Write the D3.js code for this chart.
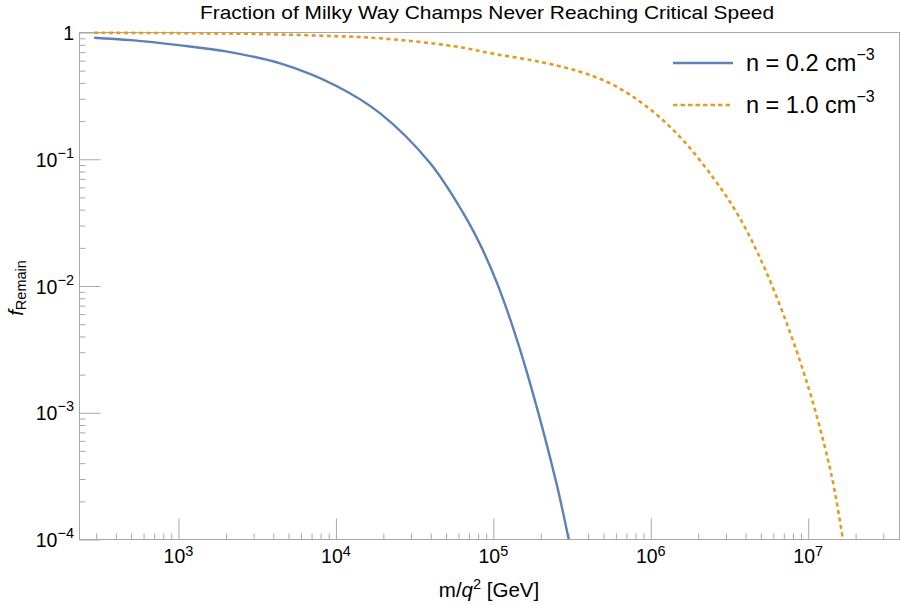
<!DOCTYPE html>
<html>
<head>
<meta charset="utf-8">
<script src="https://cdn.jsdelivr.net/npm/d3@7"></script>
<style>
  body { margin: 0; background: #fff; }
  text { font-family: "Liberation Sans", Arial, sans-serif; fill: #000; }
</style>
</head>
<body>
<svg id="chart" width="900" height="605"></svg>
<script>
// values
var blueM = [291, 500, 1000, 2000, 4430, 10000, 19100, 39700, 64400, 82600, 106000, 135800, 174200, 251000, 301000];
var blueF = [0.91, 0.87, 0.795, 0.71, 0.57, 0.38, 0.23, 0.093, 0.0376, 0.0211, 0.0104, 0.00437, 0.00158, 0.000281, 0.0001];
var orangeM = [291, 1000, 3000, 10000, 19100, 56000, 100000, 200000, 356000, 581000, 946000, 1540000, 2510000, 3610000, 5210000, 7500000, 10070000, 12530000, 14500000, 16600000];
var orangeF = [0.995, 0.988, 0.975, 0.935, 0.90, 0.78, 0.68, 0.585, 0.49, 0.384, 0.259, 0.149, 0.0706, 0.0357, 0.0144, 0.00463, 0.00156, 0.000585, 0.000267, 0.0001];
var seriesNames = ["n = 0.2 cm", "n = 1.0 cm"];
var xMajor = [1e3, 1e4, 1e5, 1e6, 1e7];
var xExp = ["3", "4", "5", "6", "7"];
var yMajor = [1, 1e-1, 1e-2, 1e-3, 1e-4];
var yExp = ["", "\u22121", "\u22122", "\u22123", "\u22124"];

var L = 79.5, R = 899.5, T = 32.5, B = 539.5;
var BLUE = "#5e81b5", ORANGE = "#e19c24", FRAME = "#a8a8a8";

var x = d3.scaleLog().domain([235, 3.8e7]).range([L, R]);
var y = d3.scaleLog().domain([1e-4, 1]).range([B, T]);

var svg = d3.select("#chart");

// minor ticks
var xMinor = [];
for (var e = 2; e <= 7; e++) for (var k = 2; k <= 9; k++) {
  var v = k * Math.pow(10, e);
  if (v >= 235 && v <= 3.8e7) xMinor.push(v);
}
var yMinor = [];
for (var e = -4; e < 0; e++) for (var k = 2; k <= 9; k++) yMinor.push(k * Math.pow(10, e));

var xMinorAxis = d3.axisBottom(x).tickValues(xMinor).tickSize(-6).tickFormat("");
var xMajorAxis = d3.axisBottom(x).tickValues(xMajor).tickSize(-21).tickFormat("");
var yMinorAxis = d3.axisLeft(y).tickValues(yMinor).tickSize(-6).tickFormat("");
var yMajorAxis = d3.axisLeft(y).tickValues(yMajor).tickSize(-21).tickFormat("");

[xMinorAxis, xMajorAxis].forEach(function(a) {
  svg.append("g").attr("transform", "translate(0," + B + ")").call(a);
});
[yMinorAxis, yMajorAxis].forEach(function(a) {
  svg.append("g").attr("transform", "translate(" + L + ",0)").call(a);
});
svg.selectAll(".domain").remove();
svg.selectAll(".tick line").attr("stroke", FRAME).attr("stroke-width", 1);

// frame
svg.append("rect")
  .attr("x", L).attr("y", T).attr("width", R - L).attr("height", B - T)
  .attr("fill", "none").attr("stroke", FRAME).attr("stroke-width", 1);

// tick labels
var xl = svg.append("g").selectAll("text").data(xMajor).enter().append("text")
  .attr("x", function(d) { return x(d); })
  .attr("y", 563)
  .attr("text-anchor", "middle")
  .style("font-size", "19.5px");
xl.append("tspan").text("10");
xl.append("tspan").attr("dy", -7).style("font-size", "14.5px").text(function(d, i) { return xExp[i]; });

var yl = svg.append("g").selectAll("text").data(yMajor).enter().append("text")
  .attr("x", 74)
  .attr("y", function(d) { return y(d) + 7.5; })
  .attr("text-anchor", "end")
  .style("font-size", "19.5px");
yl.append("tspan").text(function(d, i) { return i == 0 ? "1" : "10"; });
yl.append("tspan").attr("dy", -9).style("font-size", "14.5px").text(function(d, i) { return yExp[i]; });

// clip
svg.append("clipPath").attr("id", "plotclip").append("rect")
  .attr("x", L).attr("y", T - 2).attr("width", R - L).attr("height", B - T + 2);

var line = d3.line()
  .x(function(d) { return x(d[0]); })
  .y(function(d) { return y(d[1]); })
  .curve(d3.curveCatmullRom.alpha(0.5));

var g = svg.append("g").attr("clip-path", "url(#plotclip)");

g.append("path")
  .attr("d", line(orangeM.map(function(m, i) { return [m, orangeF[i]]; })))
  .attr("fill", "none").attr("stroke", ORANGE).attr("stroke-width", 2.6)
  .attr("stroke-dasharray", "4,3.5");

g.append("path")
  .attr("d", line(blueM.map(function(m, i) { return [m, blueF[i]]; })))
  .attr("fill", "none").attr("stroke", BLUE).attr("stroke-width", 2.4);

// title
svg.append("text")
  .attr("x", 487).attr("y", 19)
  .attr("text-anchor", "middle")
  .attr("textLength", 574).attr("lengthAdjust", "spacingAndGlyphs")
  .style("font-size", "19px")
  .text("Fraction of Milky Way Champs Never Reaching Critical Speed");

// x label
var xt = svg.append("text")
  .attr("x", 489).attr("y", 597)
  .attr("text-anchor", "middle")
  .style("font-size", "20.5px");
xt.append("tspan").text("m/");
xt.append("tspan").style("font-style", "italic").text("q");
xt.append("tspan").attr("dy", -8).style("font-size", "14.5px").text("2");
xt.append("tspan").attr("dy", 8).text(" [GeV]");

// y label
var yt = svg.append("text")
  .attr("transform", "translate(23,288) rotate(-90)")
  .attr("text-anchor", "middle")
  .style("font-size", "20.5px");
yt.append("tspan").style("font-style", "italic").text("f");
yt.append("tspan").attr("dy", 3).style("font-size", "14.5px").text("Remain");

// legend
var legend = svg.append("g");
var legY = [63, 105];
var legColor = [BLUE, ORANGE];
var legDash = [null, "4.5,3"];
seriesNames.forEach(function(name, i) {
  legend.append("line")
    .attr("x1", 673).attr("x2", 733).attr("y1", legY[i]).attr("y2", legY[i])
    .attr("stroke", legColor[i]).attr("stroke-width", 2.6)
    .attr("stroke-dasharray", legDash[i]);
  var t = legend.append("text")
    .attr("x", 746).attr("y", legY[i] + 8)
    .style("font-size", "23.5px");
  t.append("tspan").text(name);
  t.append("tspan").attr("dy", -11).style("font-size", "16px").text("\u22123");
});
</script>
</body>
</html>
